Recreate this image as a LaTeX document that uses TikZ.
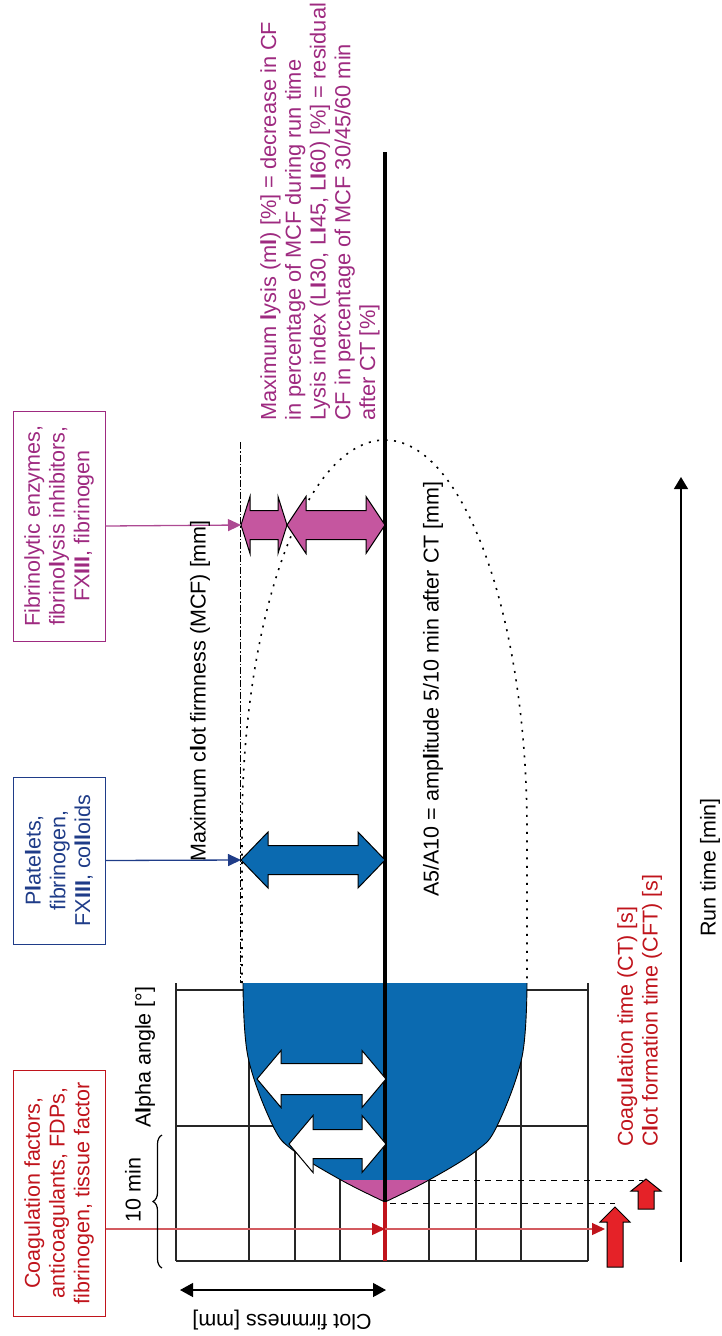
\documentclass[tikz,border=0pt]{standalone}
\usepackage{fontspec}
\setmainfont{Liberation Sans}
\usetikzlibrary{arrows.meta,decorations.pathreplacing,calc}

\definecolor{clotblue}{HTML}{0B6AB0}
\definecolor{lysispink}{HTML}{C5569F}
\definecolor{lysistext}{HTML}{9E2A80}
\definecolor{navytext}{HTML}{1F3C88}
\definecolor{ctred}{HTML}{C0141C}
\definecolor{ctfill}{HTML}{E52228}

% double-headed block arrow: fill, x1, x2, y, head length, head half width, shaft half width
\newcommand\dblblock[7]{%
  \filldraw[fill=#1,draw=black,line width=1pt,line join=miter]
    (#2,#4) -- ({#2+#5},{#4-#6}) -- ({#2+#5},{#4-#7}) -- ({#3-#5},{#4-#7})
    -- ({#3-#5},{#4-#6}) -- (#3,#4) -- ({#3-#5},{#4+#6}) -- ({#3-#5},{#4+#7})
    -- ({#2+#5},{#4+#7}) -- ({#2+#5},{#4+#6}) -- cycle;}
% upward block arrow: x, tip y, head base y, bottom y, head half width, shaft half width
\newcommand\upblock[6]{%
  \filldraw[fill=ctfill,draw=black,line width=1pt,line join=miter]
    (#1,#2) -- ({#1+#5},#3) -- ({#1+#6},#3) -- ({#1+#6},#4) -- ({#1-#6},#4)
    -- ({#1-#6},#3) -- ({#1-#5},#3) -- cycle;}

\begin{document}
\begin{tikzpicture}[x=1pt,y=-1pt,
  txt/.style={font=\fontsize{21.5}{24.75}\selectfont,inner sep=0pt},
  vlabel/.style={txt,rotate=90},
  infobox/.style={txt,rotate=90,draw,line width=1pt,align=center,minimum height=92pt},
  gridline/.style={line width=1.1pt,black!85},
  thinarrow/.style={line width=1.3pt,-{Triangle[length=13pt,width=12pt]}},
  dotline/.style={line width=1.6pt,dash pattern=on 2pt off 6.5pt},
  levelline/.style={line width=1pt,dash pattern=on 6pt off 5pt}]
\useasboundingbox (0,0) rectangle (722,1336);

% measurement grid
\foreach \gy in {990,1126,1261} \draw[gridline] (176,\gy) -- (588,\gy);
\foreach \gx in {249,295,340,385,429,476,521} \draw[gridline] (\gx,990) -- (\gx,1261);
\draw[gridline] (176,983) -- (176,1261);
\draw[gridline] (588,983) -- (588,1261);

% clot envelope (dotted) and MCF reference line
\draw[dotline] (242,983) -- (242,830)
  .. controls (242,615) and (306,440) .. (385,440)
  .. controls (463,440) and (527,615) .. (527,830) -- (527,983);
\draw[line width=0.9pt,dash pattern=on 7pt off 2pt on 1.5pt off 2pt] (240,442) -- (240,983);

% clot formation curve
\path[save path=\clotpath] (243,983)
  -- plot[smooth,tension=0.6] coordinates {(243,983) (248,1057) (273,1126) (294,1151) (341,1180) (385,1202)}
  -- plot[smooth,tension=0.6] coordinates {(385,1202) (429,1180) (476,1151) (497,1126) (522,1057) (527,983)}
  -- cycle;
\fill[clotblue,use path=\clotpath];
\begin{scope}
  \clip (0,1180) rectangle (722,1336);
  \fill[lysispink,use path=\clotpath];
\end{scope}
\draw[line width=0.9pt]
  plot[smooth,tension=0.6] coordinates {(243,983) (248,1057) (273,1126) (294,1151) (341,1180) (385,1202)}
  plot[smooth,tension=0.6] coordinates {(385,1202) (429,1180) (476,1151) (497,1126) (522,1057) (527,983)};

% CT / CFT level lines
\draw[levelline] (390,1203) -- (615,1203);
\draw[levelline] (430,1180) -- (643,1180);

% trace baseline
\coordinate (ct) at (385,1202);
\coordinate (top) at (385,152);
\coordinate (gridbot) at (385,1261);
\draw[line width=4pt] (top) -- (ct);
\draw[line width=4pt,ctred] (ct) -- (gridbot);

% amplitude arrows
\dblblock{white}{257}{386}{1079}{24}{28.5}{15.5}
\dblblock{white}{289}{386}{1144}{24}{28.5}{14.5}
\dblblock{clotblue}{241}{385}{860}{27}{28}{14.5}
\dblblock{lysispink}{241}{287}{525}{9}{28.5}{14.5}
\dblblock{lysispink}{287}{385}{525}{19}{28.5}{14.5}

% CT and CFT markers
\upblock{615}{1207}{1222}{1267}{15}{8}
\upblock{646}{1179}{1191}{1209}{15}{8}

% reagent boxes
\node[infobox,draw=lysistext,text=lysistext,minimum width=230pt] (magbox) at (59,526)
  {Fibrinolytic enzymes,\\fibrino\textbf{l}ysis inhibitors,\\FX\textbf{III}, fibrinogen};
\node[infobox,draw=navytext,text=navytext,minimum width=167pt] (bluebox) at (59,860.5)
  {P\textbf{l}ate\textbf{l}ets,\\fibrinogen,\\FX\textbf{III}, co\textbf{ll}oids};
\node[infobox,draw=ctred,text=ctred,minimum width=246pt] (redbox) at (59,1193)
  {Coagulation factors,\\anticoagulants, FDPs,\\fibrinogen, tissue factor};

\coordinate (lysistip) at (241,525);
\coordinate (mcftip) at (241,860);
\coordinate (ctmark) at (385,1229);
\coordinate (ctend) at (605,1229);
\draw[thinarrow,lysistext!85] (magbox.south) -- (lysistip);
\draw[thinarrow,navytext] (bluebox.south) -- (mcftip);
\draw[line width=1.3pt,ctred!70,-{Triangle[length=13pt,width=12pt,color=ctred]}] (redbox.south |- ctmark) -- (ctmark);
\draw[line width=1.3pt,ctred!70,-{Triangle[length=13pt,width=12pt,color=ctred]}] (ctmark) -- (ctend);

% labels
\node[vlabel,anchor=north west,align=left,text=lysistext,font=\fontsize{21.8}{24.75}\selectfont] (lysistxt) at (260,421)
  {Maximum \textbf{l}ysis (m\textbf{l}) [\%] = decrease in CF\\in percentage of MCF during run time\\Lysis index (L\textbf{I}30, L\textbf{I}45, L\textbf{I}60) [\%] = residual\\CF in percentage of MCF 30/45/60 min\\after CT [\%]};
\node[vlabel,anchor=west] (mcftxt) at (200,862) {Maximum c\textbf{l}ot firmness (MCF) [mm]};
\node[vlabel,anchor=west] (a5txt) at (433,897) {A5/A10 = amp\textbf{l}itude 5/10 min after CT [mm]};
\node[vlabel,anchor=west] (alphatxt) at (145,1128) {A\textbf{l}pha angle [°]};
\node[vlabel] (tenmin) at (133,1190) {10 min};
\node[vlabel,anchor=north west,align=left,text=ctred] (cttxt) at (617,1147)
  {Coagu\textbf{l}ation time (CT) [s]\\C\textbf{l}ot formation time (CFT) [s]};
\node[vlabel,anchor=west] (runtxt) at (710,937) {Run time [min]};
\node[txt,rotate=180] (cfirm) at (282,1320) {Clot firmness [mm]};

% ten-minute brace
\draw[line width=1.2pt,decorate,decoration={brace,amplitude=9pt}] (162,1268) -- (162,1135);

% axes
\coordinate (rt0) at (681,1262);
\coordinate (rt1) at (681,477);
\draw[line width=1.3pt,-{Triangle[length=12pt,width=14pt]}] (rt0) -- (rt1);
\coordinate (cf0) at (180,1290);
\coordinate (cf1) at (386,1290);
\draw[line width=1.3pt,{Triangle[length=13pt,width=14pt]}-{Triangle[length=13pt,width=14pt]}] (cf0) -- (cf1);
\end{tikzpicture}
\end{document}
